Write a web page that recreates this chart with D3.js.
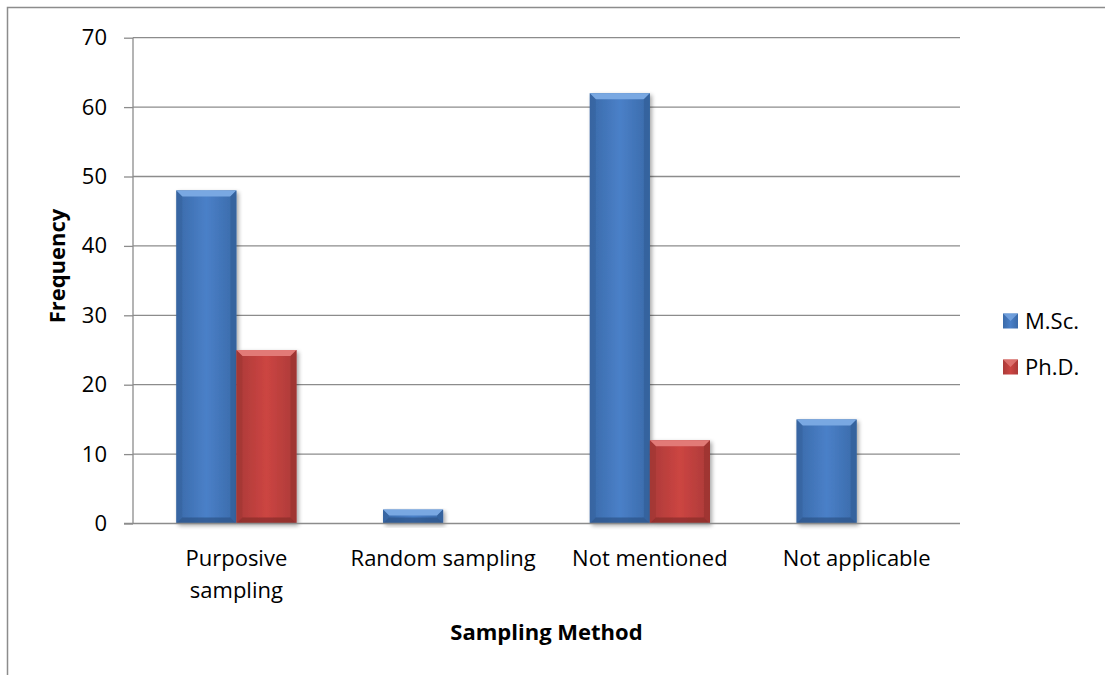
<!DOCTYPE html>
<html><head><meta charset="utf-8">
<script src="https://cdn.jsdelivr.net/npm/d3@7/dist/d3.min.js"></script>
<style>body{margin:0;background:#fff;} text{font-family:"Open Sans","Liberation Sans",sans-serif;}</style>
</head><body>
<svg id="c" width="1105" height="675"></svg>
<script>
const categories = [["Purposive","sampling"],["Random sampling"],["Not mentioned"],["Not applicable"]];
const seriesNames = ["M.Sc.","Ph.D."];
const msc = [48, 2, 62, 15];
const phd = [25, 0, 12, 0];
const yTicks = [0,10,20,30,40,50,60,70];

const FS = 22;
const svg = d3.select("#c");
const m = {l:133, r:960, t:37.7, b:523.5};
const x = d3.scaleBand().domain(d3.range(categories.length)).range([m.l, m.r]).paddingInner(0).paddingOuter(0);
const xs = d3.scaleBand().domain(seriesNames).range([0, x.bandwidth()]).paddingInner(0).paddingOuter(0.72);
const y = d3.scaleLinear().domain([0,70]).range([m.b, m.t]);

const defs = svg.append("defs");
const palettes = {
  "M.Sc.": {edge:"#3a6aa9", mid:"#4a80c8", top:"#79a8e2", side:"#33609a", bot:"#2c5287"},
  "Ph.D.": {edge:"#ab3a38", mid:"#cc4542", top:"#e27a77", side:"#9b3331", bot:"#872b2a"}
};
Object.entries(palettes).forEach(([k,p],i)=>{
  const g = defs.append("linearGradient").attr("id","g"+i).attr("x1","0").attr("x2","1").attr("y1","0").attr("y2","0");
  g.append("stop").attr("offset","0").attr("stop-color",p.edge);
  g.append("stop").attr("offset","0.5").attr("stop-color",p.mid);
  g.append("stop").attr("offset","1").attr("stop-color",p.edge);
});
const f = defs.append("filter").attr("id","sh").attr("x","-20%").attr("y","-20%").attr("width","150%").attr("height","150%");
f.append("feGaussianBlur").attr("in","SourceAlpha").attr("stdDeviation","2");
f.append("feOffset").attr("dx","2").attr("dy","2").attr("result","b");
f.append("feComponentTransfer").append("feFuncA").attr("type","linear").attr("slope","0.35");
const mg = f.append("feMerge"); mg.append("feMergeNode"); mg.append("feMergeNode").attr("in","SourceGraphic");

// outer border
svg.append("rect").attr("x",7.5).attr("y",7.5).attr("width",1200).attr("height",800).attr("fill","none").attr("stroke","#8c8c8c").attr("stroke-width",1.5);

// gridlines
svg.append("g").selectAll("line").data(yTicks.filter(d=>d>0)).join("line")
  .attr("x1",m.l).attr("x2",m.r).attr("y1",d=>y(d)).attr("y2",d=>y(d))
  .attr("stroke","#8c8c8c").attr("stroke-width",1.3);

// y axis
const ya = svg.append("g").attr("transform",`translate(${m.l},0)`)
  .call(d3.axisLeft(y).tickValues(yTicks).tickSize(9).tickPadding(17));
ya.select(".domain").attr("stroke","#8c8c8c").attr("stroke-width",1.3).attr("d",`M0,${m.t}V${m.b}`);
ya.selectAll(".tick line").attr("stroke","#8c8c8c").attr("stroke-width",1.3);
ya.selectAll(".tick text").attr("font-size",FS).attr("fill","#000").style("font-family",'"Open Sans","Liberation Sans",sans-serif');

// bars
const series = [msc, phd];
const bw = xs.bandwidth();
series.forEach((vals, si)=>{
  const p = palettes[seriesNames[si]];
  const g = svg.append("g");
  vals.forEach((v,ci)=>{
    if (v<=0) return;
    const x0 = x(ci)+xs(seriesNames[si]), y0 = y(v), h = y(0)-y(v), w = bw;
    const bg = g.append("g").attr("filter","url(#sh)");
    bg.append("rect").attr("x",x0).attr("y",y0).attr("width",w).attr("height",h).attr("fill",`url(#g${si})`);
    const b = Math.min(6, h/2);
    bg.append("path").attr("d",`M${x0},${y0}H${x0+w}L${x0+w-b},${y0+b}H${x0+b}Z`).attr("fill",p.top);
    bg.append("path").attr("d",`M${x0},${y0}L${x0+b},${y0+b}V${y0+h-b}L${x0},${y0+h}Z`).attr("fill",p.side).attr("opacity",0.5);
    bg.append("path").attr("d",`M${x0+w},${y0}L${x0+w-b},${y0+b}V${y0+h-b}L${x0+w},${y0+h}Z`).attr("fill",p.side).attr("opacity",0.75);
    bg.append("path").attr("d",`M${x0},${y0+h}L${x0+b},${y0+h-b}H${x0+w-b}L${x0+w},${y0+h}Z`).attr("fill",p.bot).attr("opacity",0.7);
  });
});

// x axis line
svg.append("line").attr("x1",m.l-9).attr("x2",m.r).attr("y1",y(0)).attr("y2",y(0)).attr("stroke","#8c8c8c").attr("stroke-width",1.5);

// x labels
const xl = svg.append("g");
categories.forEach((lines,ci)=>{
  const cx = x(ci)+x.bandwidth()/2;
  const t = xl.append("text").attr("x",cx).attr("y",566).attr("text-anchor","middle").attr("font-size",FS).attr("fill","#000");
  lines.forEach((s,i)=>t.append("tspan").attr("x",cx).attr("dy",i?32:0).text(s));
});

// axis titles
svg.append("text").attr("x",(m.l+m.r)/2).attr("y",640).attr("text-anchor","middle").attr("font-size",FS).attr("font-weight","bold").text("Sampling Method");
svg.append("text").attr("transform",`translate(65,266) rotate(-90)`).attr("text-anchor","middle").attr("font-size",FS).attr("font-weight","bold").text("Frequency");

// legend
const lg = svg.append("g");
seriesNames.forEach((n,i)=>{
  const p = palettes[n];
  const ly = 321 + i*46;
  const lx = 1003, s = 15;
  lg.append("rect").attr("x",lx).attr("y",ly-s/2).attr("width",s).attr("height",s).attr("fill",`url(#g${i})`);
  lg.append("path").attr("d",`M${lx},${ly-s/2}H${lx+s}L${lx+s/2},${ly}Z`).attr("fill",p.top).attr("opacity",0.8);
  lg.append("text").attr("x",lx+22).attr("y",ly+8).attr("font-size",FS).text(n);
});
</script>
</body></html>
